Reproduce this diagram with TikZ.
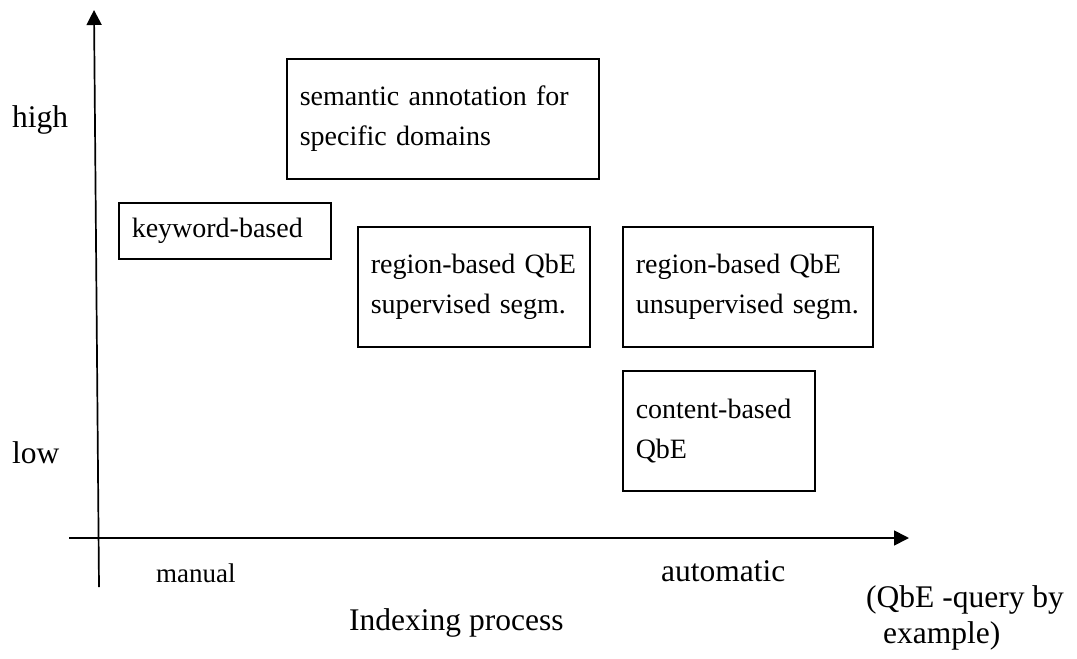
\documentclass[tikz,border=0pt]{standalone}
\usepackage{fontspec}
\setmainfont{Liberation Serif}
\usetikzlibrary{arrows.meta}
\begin{document}
\begin{tikzpicture}[x=1pt,y=-1pt,
  axisline/.style={line width=1.7pt,-{Triangle[length=15pt,width=15pt]}},
  catbox/.style={draw,line width=1.5pt,inner sep=0pt,anchor=north west,
    align=left,font=\fontsize{28}{40}\selectfont},
  axlabel/.style={inner sep=0pt,anchor=base west,font=\fontsize{31.5}{36}\selectfont},
  smalllabel/.style={inner sep=0pt,anchor=base west,font=\fontsize{27}{32}\selectfont}]
\useasboundingbox (0,0) rectangle (1077,659);

% axes
\coordinate (ybot) at (99,587);
\coordinate (ytop) at (94,10);
\coordinate (xleft) at (69,538);
\coordinate (xright) at (909,538);
\draw[axisline] (ybot) -- (ytop);
\draw[axisline] (xleft) -- (xright);

% categories
\node[catbox,minimum width=312pt,minimum height=120pt,text width=286pt]
  (semantic) at (286,58) {semantic annotation for\\specific domains};
\node[catbox,minimum width=212pt,minimum height=56pt,text width=186pt]
  (keyword) at (118,202) {keyword-based};
\node[catbox,minimum width=232pt,minimum height=120pt,text width=206pt]
  (supervised) at (357,226) {region-based QbE\\supervised segm.};
\node[catbox,minimum width=250pt,minimum height=120pt,text width=224pt]
  (unsupervised) at (622,226) {region-based QbE\\unsupervised segm.};
\node[catbox,minimum width=192pt,minimum height=120pt,text width=166pt]
  (content) at (622,370) {content-based\\QbE};

% axis labels
\node[axlabel] (high) at (12,127) {high};
\node[axlabel] (low) at (12,463) {low};
\node[smalllabel] (manual) at (156,582) {manual};
\node[axlabel] (automatic) at (661,581) {automatic};
\node[axlabel] (indexing) at (349,630) {Indexing process};
\node[axlabel] (note1) at (866,607) {(QbE -query by};
\node[axlabel] (note2) at (883,643) {example)};
\end{tikzpicture}
\end{document}
